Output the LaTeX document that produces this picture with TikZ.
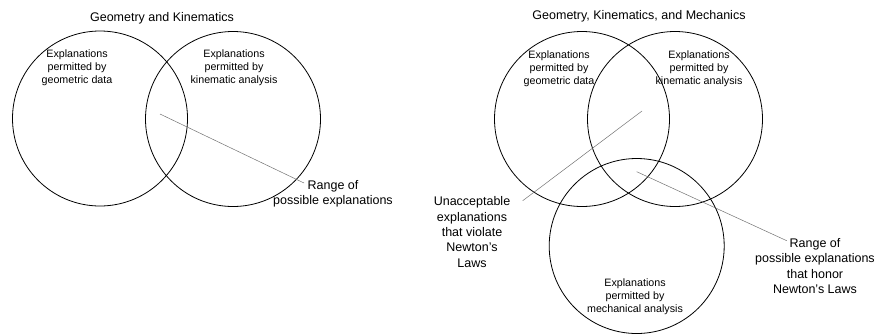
\documentclass[tikz,border=0pt]{standalone}
\usepackage{fontspec}
\setmainfont{Liberation Sans}
\usetikzlibrary{positioning,calc}

\begin{document}
\begin{tikzpicture}[
    x=1pt, y=-1pt,
    venn/.style={circle, draw, line width=0.8pt, minimum size=175pt, inner sep=0pt},
    region/.style={align=center, font=\fontsize{10.7}{13}\selectfont},
    heading/.style={font=\fontsize{12.5}{15}\selectfont},
    callout/.style={align=center, font=\fontsize{12.5}{15.3}\selectfont},
    leader/.style={draw=black!55, line width=0.5pt},
]
    \useasboundingbox (0,0) rectangle (880,333);

    % Geometry and kinematics
    \node[heading] (title_gk) at (162,18) {Geometry and Kinematics};
    \node[venn] (geo_l) at (100,118.5) {};
    \node[venn] (kin_l) at (233,119) {};
    \node[region] (geo_l_txt) at (77,68) {Explanations\\permitted by\\geometric data};
    \node[region] (kin_l_txt) at (234,68) {Explanations\\permitted by\\kinematic analysis};
    \node[callout] (range_l) at (333,193.5) {Range of\\possible explanations};

    \coordinate (overlap_l) at (160,114);
    \coordinate (range_l_end) at (304,183);
    \draw[leader] (overlap_l) -- (range_l_end);

    % Geometry, kinematics and mechanics
    \node[heading] (title_gkm) at (639,16) {Geometry, Kinematics, and Mechanics};
    \node[venn] (geo_r) at (582,119) {};
    \node[venn] (kin_r) at (675,119) {};
    \node[venn] (mech_r) at (636.7,246) {};
    \node[region] (geo_r_txt) at (559,69) {Explanations\\permitted by\\geometric data};
    \node[region] (kin_r_txt) at (699,69) {Explanations\\permitted by\\kinematic analysis};
    \node[region] (mech_r_txt) at (635,297) {Explanations\\permitted by\\mechanical analysis};
    \node[callout] (violate) at (472,232) {Unacceptable\\explanations\\that violate\\Newton's\\Laws};
    \node[callout] (honor) at (815,266) {Range of\\possible explanations\\that honor\\Newton's Laws};

    \coordinate (overlap_gk) at (642,111);
    \coordinate (violate_end) at (522.7,200.7);
    \coordinate (overlap_all) at (636.7,171.7);
    \coordinate (honor_end) at (786.7,240.7);
    \draw[leader] (overlap_gk) -- (violate_end);
    \draw[leader] (overlap_all) -- (honor_end);

\end{tikzpicture}
\end{document}
